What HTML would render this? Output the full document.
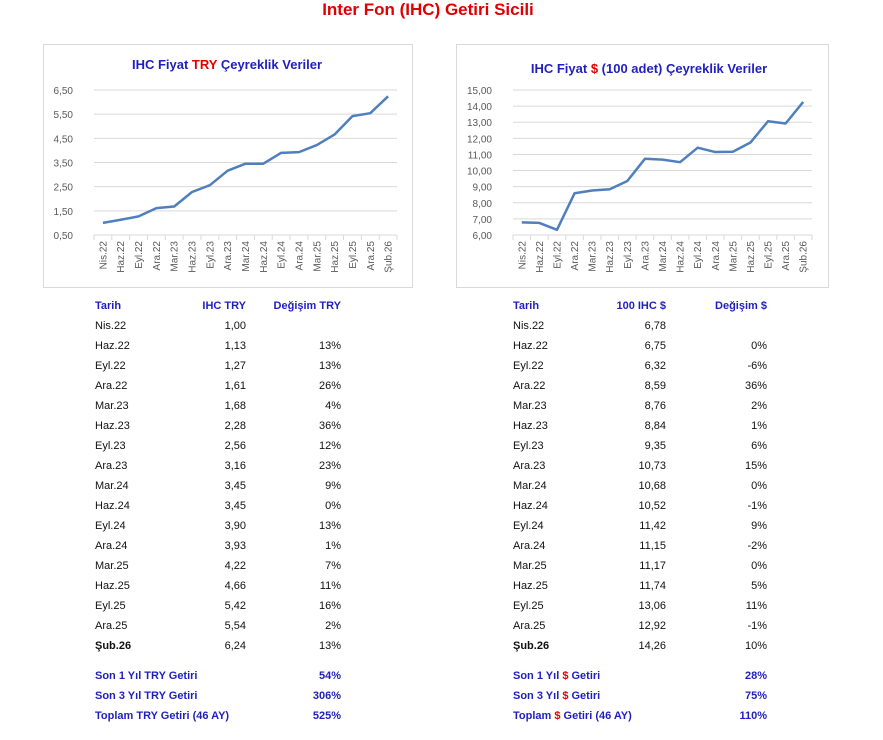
<!DOCTYPE html>
<html><head><meta charset="utf-8"><style>
html,body{margin:0;padding:0;background:#fff;width:883px;height:740px;overflow:hidden}
svg{display:block}
text{font-family:"Liberation Sans",sans-serif}
</style></head><body>
<svg id="s" width="883" height="740" xmlns="http://www.w3.org/2000/svg">
<text x="428" y="15" text-anchor="middle" font-size="17" font-weight="bold" fill="#e00000">Inter Fon (IHC) Getiri Sicili</text>
<rect x="43.5" y="44.5" width="369" height="243" fill="#fff" stroke="#d9d9d9"/>
<rect x="456.5" y="44.5" width="372" height="243" fill="#fff" stroke="#d9d9d9"/>
<text x="227" y="69" text-anchor="middle" font-size="13" font-weight="bold" fill="#1f1fbf">IHC Fiyat <tspan fill="#e00000">TRY</tspan> Çeyreklik Veriler</text>
<text x="649" y="73" text-anchor="middle" font-size="13" font-weight="bold" fill="#1f1fbf">IHC Fiyat <tspan fill="#e00000">$</tspan> (100 adet) Çeyreklik Veriler</text>
<g id="g"></g>
</svg>
<script>
var NS="http://www.w3.org/2000/svg",g=document.getElementById('g');
function el(t,a,txt){var e=document.createElementNS(NS,t);for(var k in a)e.setAttribute(k,a[k]);if(txt!==undefined)e.textContent=txt;g.appendChild(e);return e;}
var lab=["Nis.22","Haz.22","Eyl.22","Ara.22","Mar.23","Haz.23","Eyl.23","Ara.23","Mar.24","Haz.24","Eyl.24","Ara.24","Mar.25","Haz.25","Eyl.25","Ara.25","Şub.26"];
var tr=[1.00,1.13,1.27,1.61,1.68,2.28,2.56,3.16,3.45,3.45,3.90,3.93,4.22,4.66,5.42,5.54,6.24];
var us=[6.78,6.75,6.32,8.59,8.76,8.84,9.35,10.73,10.68,10.52,11.42,11.15,11.17,11.74,13.06,12.92,14.26];
var trc=["","13%","13%","26%","4%","36%","12%","23%","9%","0%","13%","1%","7%","11%","16%","2%","13%"];
var usc=["","0%","-6%","36%","2%","1%","6%","15%","0%","-1%","9%","-2%","0%","5%","11%","-1%","10%"];
function chart(x0,x1,ytop,ybot,vmin,vmax,step,data){
  for(var v=vmin;v<=vmax+1e-9;v+=step){var y=ybot-(v-vmin)/(vmax-vmin)*(ybot-ytop);
    el('line',{x1:x0,x2:x1,y1:y,y2:y,stroke:'#d9d9d9','stroke-width':1});
    el('text',{x:x0-21,y:y+4,'text-anchor':'end','font-size':10,fill:'#595959'},v.toFixed(2).replace('.',','));}
  var w=(x1-x0)/17,pts=[];
  for(var i=0;i<=17;i++){el('line',{x1:x0+i*w,x2:x0+i*w,y1:ybot,y2:ybot+5,stroke:'#d9d9d9'});}
  for(var i=0;i<17;i++){var cx=x0+w*(i+0.5);pts.push(cx+','+(ybot-(data[i]-vmin)/(vmax-vmin)*(ybot-ytop)));
    el('text',{x:0,y:0,transform:'translate('+(cx+3.5)+','+(ybot+6)+') rotate(-90)','text-anchor':'end','font-size':10,fill:'#595959'},lab[i]);}
  el('polyline',{points:pts.join(' '),fill:'none',stroke:'#4f7fbf','stroke-width':2.5,'stroke-linejoin':'round'});
}
chart(94,397,90,235,0.5,6.5,1,tr);
chart(513,812,90,235,6,15,1,us);
function table(xd,xv,xc,h1,h2,vals,ch,dec){
  var B='#1f1fbf';
  el('text',{x:xd,y:309,'font-size':11,'font-weight':'bold',fill:B},'Tarih');
  el('text',{x:xv,y:309,'font-size':11,'font-weight':'bold',fill:B,'text-anchor':'end'},h1);
  el('text',{x:xc,y:309,'font-size':11,'font-weight':'bold',fill:B,'text-anchor':'end'},h2);
  for(var i=0;i<17;i++){var y=329+i*20,b=i==16?'bold':'normal';
    el('text',{x:xd,y:y,'font-size':11,fill:'#111','font-weight':b},lab[i]);
    el('text',{x:xv,y:y,'font-size':11,fill:'#111','text-anchor':'end'},vals[i].toFixed(2).replace('.',','));
    el('text',{x:xc,y:y,'font-size':11,fill:'#111','text-anchor':'end'},ch[i]);}
}
table(95,246,341,'IHC TRY','Değişim TRY',tr,trc);
table(513,666,767,'100 IHC $','Değişim $',us,usc);
function sum(x,xr,y,parts,val){var t=el('text',{x:x,y:y,'font-size':11,'font-weight':'bold',fill:'#1f1fbf'});
  parts.forEach(function(p){var s=document.createElementNS(NS,'tspan');s.textContent=p[0];if(p[1])s.setAttribute('fill','#e00000');t.appendChild(s);});
  el('text',{x:xr,y:y,'font-size':11,'font-weight':'bold',fill:'#1f1fbf','text-anchor':'end'},val);}
sum(95,341,679,[['Son 1 Yıl TRY Getiri']],'54%');
sum(95,341,699,[['Son 3 Yıl TRY Getiri']],'306%');
sum(95,341,719,[['Toplam TRY Getiri (46 AY)']],'525%');
sum(513,767,679,[['Son 1 Yıl '],['$',1],[' Getiri']],'28%');
sum(513,767,699,[['Son 3 Yıl '],['$',1],[' Getiri']],'75%');
sum(513,767,719,[['Toplam '],['$',1],[' Getiri (46 AY)']],'110%');
</script>
</body></html>
